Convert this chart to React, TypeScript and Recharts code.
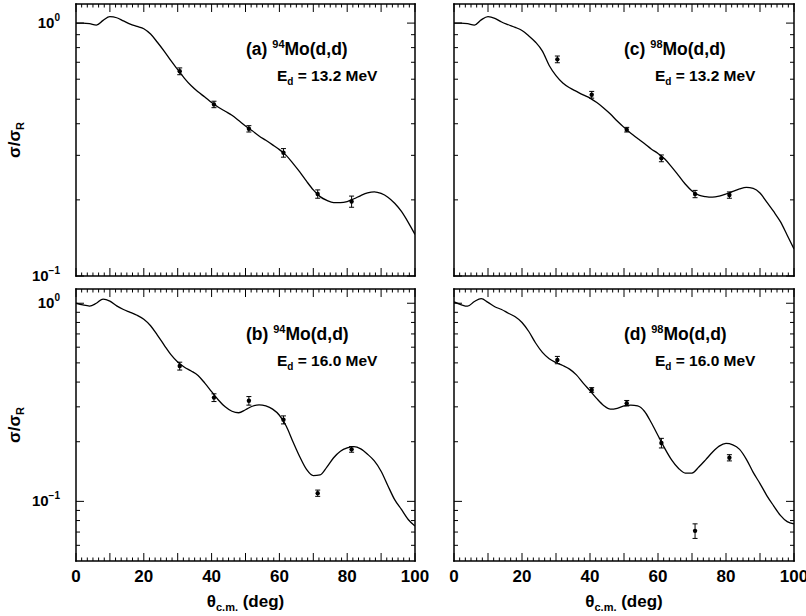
import React from 'react';
import { ComposedChart, Line, Scatter, ErrorBar, XAxis, YAxis } from 'recharts';

const W = 806;
const H = 616;
const FONT = '"Liberation Sans", Arial, Helvetica, sans-serif';

// angle grid for the calculated curves (deg, c.m.)
const THETA = [
  0, 2, 4, 6, 8, 10, 12, 14, 16, 18, 20, 22, 24, 26, 28, 30, 32, 34, 36, 38, 40, 42, 44, 46, 48, 50,
  52, 54, 56, 58, 60, 62, 64, 66, 68, 70, 72, 74, 76, 78, 80, 82, 84, 86, 88, 90, 92, 94, 96, 98, 100,
];

// (a) 94Mo 13.2 MeV
const CURVE_A = [
  1.0, 1.0, 0.995, 0.982, 1.025, 1.06, 1.05, 1.02, 0.99, 0.97, 0.95, 0.905, 0.84, 0.775, 0.71, 0.655,
  0.605, 0.565, 0.535, 0.51, 0.485, 0.465, 0.448, 0.432, 0.412, 0.392, 0.375, 0.358, 0.344, 0.33, 0.316,
  0.3, 0.279, 0.258, 0.237, 0.219, 0.206, 0.199, 0.195, 0.195, 0.197, 0.202, 0.208, 0.213, 0.215, 0.212,
  0.205, 0.194, 0.18, 0.163, 0.146,
];
// (b) 94Mo 16.0 MeV
const CURVE_B = [
  1.0, 0.98, 0.968, 1.0, 1.05, 1.025, 0.97, 0.93, 0.9, 0.87, 0.83, 0.77, 0.69, 0.615, 0.55, 0.505,
  0.475, 0.455, 0.432, 0.395, 0.358, 0.325, 0.3, 0.285, 0.28, 0.29, 0.302, 0.307, 0.303, 0.292, 0.272,
  0.24, 0.2, 0.168, 0.145, 0.135, 0.136, 0.149, 0.166, 0.179, 0.186, 0.189, 0.184, 0.173, 0.16, 0.142,
  0.12, 0.102, 0.091, 0.081, 0.075,
];
// (c) 98Mo 13.2 MeV
const CURVE_C = [
  1.0, 1.0, 0.995, 0.982, 1.03, 1.06, 1.045, 1.01, 0.985, 0.962, 0.935, 0.89, 0.84, 0.775, 0.68, 0.62,
  0.58, 0.555, 0.537, 0.52, 0.505, 0.485, 0.462, 0.437, 0.41, 0.387, 0.367, 0.35, 0.334, 0.318, 0.305,
  0.29, 0.27, 0.25, 0.231, 0.217, 0.209, 0.206, 0.205, 0.207, 0.211, 0.216, 0.221, 0.224, 0.222, 0.213,
  0.196, 0.18, 0.164, 0.145, 0.128,
];
// (d) 98Mo 16.0 MeV
const CURVE_D = [
  1.015, 0.985, 0.966, 1.02, 1.055, 1.01, 0.96, 0.93, 0.89, 0.855, 0.8, 0.72, 0.63, 0.565, 0.525, 0.502,
  0.485, 0.465, 0.435, 0.395, 0.362, 0.33, 0.305, 0.292, 0.295, 0.303, 0.306, 0.303, 0.285, 0.25, 0.215,
  0.185, 0.162, 0.147, 0.139, 0.139, 0.149, 0.162, 0.177, 0.19, 0.196, 0.193, 0.183, 0.163, 0.14, 0.123,
  0.107, 0.095, 0.085, 0.079, 0.077,
];

// measured points
const ANGLES_94 = [30.6, 40.7, 51.0, 61.2, 71.3, 81.3];
const ANGLES_98 = [30.4, 40.5, 50.8, 61.0, 70.9, 81.0];

const DATA_A = [0.645, 0.477, 0.382, 0.307, 0.211, 0.197];
const ERR_A = [0.02, 0.014, 0.011, 0.012, 0.008, 0.01];
const DATA_B = [0.482, 0.334, 0.322, 0.258, 0.11, 0.183];
const ERR_B = [0.022, 0.015, 0.016, 0.012, 0.004, 0.006];
const DATA_C = [0.719, 0.521, 0.379, 0.292, 0.211, 0.209];
const ERR_C = [0.022, 0.016, 0.008, 0.009, 0.007, 0.006];
const DATA_D = [0.517, 0.365, 0.313, 0.197, 0.071, 0.166];
const ERR_D = [0.022, 0.01, 0.01, 0.011, 0.006, 0.006];

const X_LABELS = [0, 20, 40, 60, 80, 100];
const X_TICKS = Array.from({ length: 61 }, (_, i) => (i * 10) / 6);
const Y_TICKS_TOP = [0.1, 0.2, 0.3, 0.4, 0.5, 0.6, 0.7, 0.8, 0.9, 1];
const Y_TICKS_BOTTOM = [0.06, 0.07, 0.08, 0.09, 0.1, 0.2, 0.3, 0.4, 0.5, 0.6, 0.7, 0.8, 0.9, 1];

const AXIS = { stroke: '#000', strokeWidth: 1.5, strokeLinecap: 'square' as const };

const xTick = (dir: number, labels: boolean) => (p: any) => {
  const v = p.payload.value;
  const major = Math.abs(v / 10 - Math.round(v / 10)) < 1e-6;
  const len = major ? 8 : 3.5;
  const lab = labels && major && X_LABELS.includes(Math.round(v));
  return (
    <g>
      <line x1={p.x} y1={p.y} x2={p.x} y2={p.y + dir * len} stroke="#000" strokeWidth={1} />
      {lab && (
        <text x={p.x} y={p.y + 21} textAnchor="middle" fontSize={17} fontWeight="bold" fontFamily={FONT} fill="#000">
          {Math.round(v)}
        </text>
      )}
    </g>
  );
};

const yTick = (dir: number, labels: boolean) => (p: any) => {
  const v = p.payload.value;
  const major = Math.abs(v - 1) < 1e-9 || Math.abs(v - 0.1) < 1e-9;
  const len = major ? 8 : 4;
  const lab = labels && major;
  return (
    <g>
      <line x1={p.x} y1={p.y} x2={p.x + dir * len} y2={p.y} stroke="#000" strokeWidth={1} />
      {lab && (
        <text x={p.x - 16} y={p.y + 5} textAnchor="end" fontSize={15} fontWeight="bold" fontFamily={FONT} fill="#000">
          10
          <tspan dy={-7} fontSize={10}>
            {v > 0.5 ? '0' : '\u22121'}
          </tspan>
        </text>
      )}
    </g>
  );
};

const dot = (p: any) => <circle cx={p.cx} cy={p.cy} r={2.2} fill="#000" />;

type PanelProps = {
  rect: number[];
  curve: number[];
  angles: number[];
  values: number[];
  errors: number[];
  domain: number[];
  yTicks: number[];
  xLabels: boolean;
  yLabels: boolean;
};

function Panel({ rect, curve, angles, values, errors, domain, yTicks, xLabels, yLabels }: PanelProps) {
  const [L, T, R, B] = rect;
  const line = THETA.map((t, i) => ({ t, v: curve[i] }));
  const pts = angles.map((t, i) => ({ t, v: values[i], err: errors[i] }));
  const common = { type: 'number' as const, allowDataOverflow: true, interval: 0, tickSize: 0, tickMargin: 0, tickLine: false, axisLine: AXIS };
  return (
    <div style={{ position: 'absolute', left: 0, top: 0 }}>
      <ComposedChart
        width={W}
        height={H}
        margin={{ left: L - 1, right: W - R - 1, top: T - 1, bottom: H - B - 1 }}
      >
        <XAxis xAxisId="b" dataKey="t" domain={[0, 100]} ticks={X_TICKS} height={1} tick={xTick(-1, xLabels)} {...common} />
        <XAxis xAxisId="t" dataKey="t" orientation="top" domain={[0, 100]} ticks={X_TICKS} height={1} tick={xTick(1, false)} {...common} />
        <YAxis yAxisId="l" dataKey="v" scale="log" domain={domain} ticks={yTicks} width={1} tick={yTick(1, yLabels)} {...common} />
        <YAxis yAxisId="r" dataKey="v" orientation="right" scale="log" domain={domain} ticks={yTicks} width={1} tick={yTick(-1, false)} {...common} />
        <Line xAxisId="b" yAxisId="l" data={line} dataKey="v" type="monotone" stroke="#000" strokeWidth={1.3} dot={false} isAnimationActive={false} />
        <Scatter xAxisId="b" yAxisId="l" data={pts} dataKey="v" shape={dot} isAnimationActive={false}>
          <ErrorBar dataKey="err" direction="y" width={2.5} stroke="#000" strokeWidth={1} />
        </Scatter>
      </ComposedChart>
    </div>
  );
}

const LEFT = [76, 415];
const RIGHT = [454, 794];
const TOP = [4, 276];
const BOTTOM = [289, 561];

const PANELS = [
  { tag: 'a', mass: '94', energy: '13.2', x: LEFT, y: TOP, curve: CURVE_A, angles: ANGLES_94, values: DATA_A, errors: ERR_A },
  { tag: 'b', mass: '94', energy: '16.0', x: LEFT, y: BOTTOM, curve: CURVE_B, angles: ANGLES_94, values: DATA_B, errors: ERR_B },
  { tag: 'c', mass: '98', energy: '13.2', x: RIGHT, y: TOP, curve: CURVE_C, angles: ANGLES_98, values: DATA_C, errors: ERR_C },
  { tag: 'd', mass: '98', energy: '16.0', x: RIGHT, y: BOTTOM, curve: CURVE_D, angles: ANGLES_98, values: DATA_D, errors: ERR_D },
];

export default function App() {
  return (
    <div style={{ position: 'absolute', left: 0, top: 0, width: W, height: H, background: '#fff', overflow: 'hidden' }}>
      {PANELS.map((p) => {
        const isTop = p.y === TOP;
        return (
          <Panel
            key={p.tag}
            rect={[p.x[0], p.y[0], p.x[1], p.y[1]]}
            curve={p.curve}
            angles={p.angles}
            values={p.values}
            errors={p.errors}
            domain={isTop ? [0.1, 1.19] : [0.05, 1.18]}
            yTicks={isTop ? Y_TICKS_TOP : Y_TICKS_BOTTOM}
            xLabels={!isTop}
            yLabels={p.x === LEFT}
          />
        );
      })}
      <svg width={W} height={H} style={{ position: 'absolute', left: 0, top: 0, pointerEvents: 'none' }} fontFamily={FONT} fontWeight="bold" fill="#000">
        {PANELS.map((p) => (
          <g key={p.tag}>
            <text x={p.x[0] + 170} y={p.y[0] + 51} fontSize={17.5}>
              ({p.tag}){' '}
              <tspan dy={-7} fontSize={11}>
                {p.mass}
              </tspan>
              <tspan dy={7}>Mo(d,d)</tspan>
            </text>
            <text x={p.x[0] + 201} y={p.y[0] + 77} fontSize={15.5}>
              E
              <tspan dy={4} fontSize={10}>
                d
              </tspan>
              <tspan dy={-4}>{` = ${p.energy} MeV`}</tspan>
            </text>
          </g>
        ))}
        {[TOP, BOTTOM].map((r) => {
          const cy = (r[0] + r[1]) / 2;
          return (
            <text key={r[0]} x={20} y={cy} fontSize={17} textAnchor="middle" transform={`rotate(-90 20 ${cy})`}>
              σ/σ
              <tspan dy={4} fontSize={11}>
                R
              </tspan>
            </text>
          );
        })}
        {[LEFT, RIGHT].map((r) => (
          <text key={r[0]} x={(r[0] + r[1]) / 2} y={607} fontSize={17} textAnchor="middle">
            θ
            <tspan dy={4} fontSize={11}>
              c.m.
            </tspan>
            <tspan dy={-4}> (deg)</tspan>
          </text>
        ))}
      </svg>
    </div>
  );
}
